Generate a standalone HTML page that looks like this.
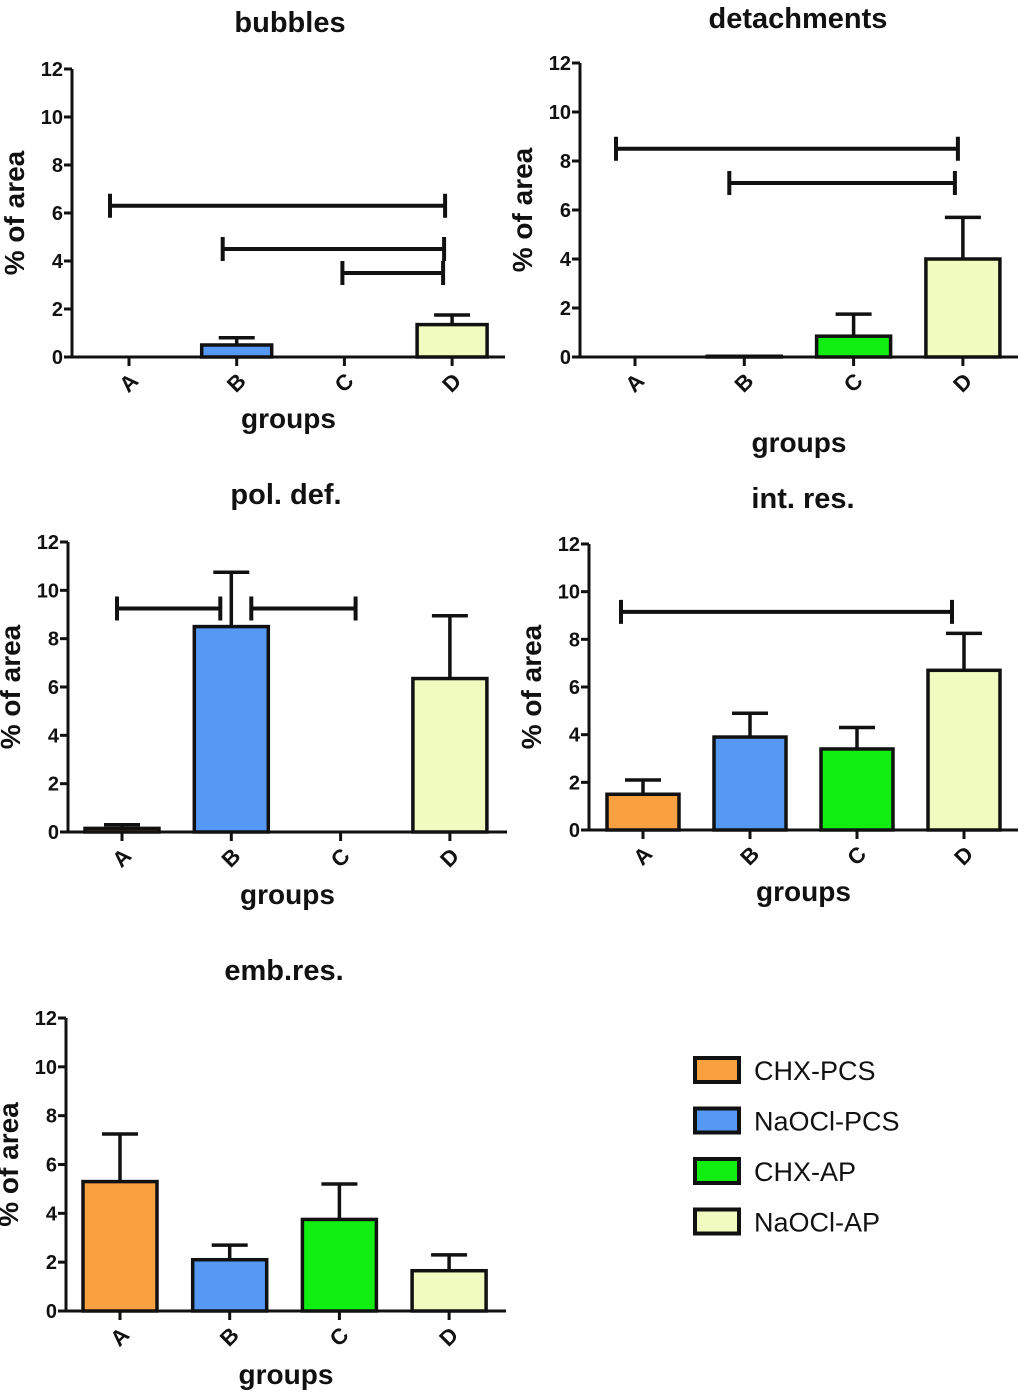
<!DOCTYPE html>
<html><head><meta charset="utf-8"><style>
html,body{margin:0;padding:0;background:#fff;}
svg{display:block;}
text{font-family:"Liberation Sans",Arial,sans-serif;fill:#111;}
</style></head><body>
<svg id="fig" width="1024" height="1393" viewBox="0 0 1024 1393" xmlns="http://www.w3.org/2000/svg"></svg>
<script>
const categories = ["A","B","C","D"];
const colors = ["#f9a040","#5599f4","#11ee11","#f2fbbf"];
const yTicks = [0,2,4,6,8,10,12];
const seriesNames = ["CHX-PCS","NaOCl-PCS","CHX-AP","NaOCl-AP"];
const bubblesVals = [0,0.5,0,1.35];
const bubblesErr = [0,0.8,0,1.75];
const bubblesBrackets = [[0,3,6.3],[1,3,4.5],[2,3,3.5]];
const detachVals = [0,0.03,0.85,4.0];
const detachErr = [0,0.03,1.75,5.7];
const detachBrackets = [[0,3,8.5],[1,3,7.1]];
const polVals = [0.15,8.5,0,6.35];
const polErr = [0.3,10.75,0,8.95];
const polBrackets = [[0,1,9.25],[1,2,9.25]];
const intVals = [1.5,3.9,3.4,6.7];
const intErr = [2.1,4.9,4.3,8.25];
const intBrackets = [[0,3,9.15]];
const embVals = [5.3,2.1,3.75,1.65];
const embErr = [7.25,2.7,5.2,2.3];
const embBrackets = [];

const NS="http://www.w3.org/2000/svg";
const svg=document.getElementById('fig');
function mk(tag,attrs,parent){const e=document.createElementNS(NS,tag);for(const k in attrs)e.setAttribute(k,attrs[k]);(parent||svg).appendChild(e);return e;}

const panels=[
 {key:"bubbles",title:"bubbles",vals:bubblesVals,err:bubblesErr,br:bubblesBrackets,ax:72,axEnd:505,y0:357,y12:69,x0:129,dx:107.7,tx:290,ty:32,gy:428,bw:70,brOff:[[-19,-7],[-14,-8],[-2,-9]]},
 {key:"detachments",title:"detachments",vals:detachVals,err:detachErr,br:detachBrackets,ax:580,axEnd:1018,y0:357,y12:63,x0:635,dx:109.3,tx:798,ty:28,gy:452,bw:74,brOff:[[-19,-5],[-15,-8]]},
 {key:"pol-def",title:"pol. def.",vals:polVals,err:polErr,br:polBrackets,ax:68,axEnd:507,y0:832,y12:542,x0:122,dx:109.3,tx:286,ty:504,gy:904,bw:74,brOff:[[-5,-11],[20,15]]},
 {key:"int-res",title:"int. res.",vals:intVals,err:intErr,br:intBrackets,ax:589,axEnd:1018,y0:830,y12:544,x0:643,dx:107,tx:803,ty:508,gy:901,bw:72,brOff:[[-22,-12]]},
 {key:"emb-res",title:"emb.res.",vals:embVals,err:embErr,br:embBrackets,ax:66,axEnd:506,y0:1311,y12:1018,x0:120,dx:109.7,tx:284,ty:980,gy:1384,bw:74,brOff:[]}
];

panels.forEach(p=>{
 const g=mk('g',{});
 
 
 const ys=v=>p.y0-(p.y0-p.y12)*v/12;
 const xs=i=>p.x0+p.dx*i;
 const t=mk('text',{x:p.tx,y:p.ty,'text-anchor':'middle','font-size':29,'font-weight':'bold'},g);t.textContent=p.title;
 
 
 p.vals.forEach((v,i)=>{
  const x=xs(i);
  if(p.err[i]>v){
   const el=mk('path',{d:`M${x},${ys(v)} V${ys(p.err[i])} M${x-18},${ys(p.err[i])} H${x+18}`,stroke:'#111','stroke-width':3.5,fill:'none'},g);
   
   
  }
  if(v>0){
   const r=mk('rect',{x:x-p.bw/2,y:ys(v),width:p.bw,height:ys(0)-ys(v),fill:colors[i],stroke:'#111','stroke-width':3.5},g);
   
   
  }
 });
 p.br.forEach((b,j)=>{
  const x1=xs(b[0])+p.brOff[j][0], x2=xs(b[1])+p.brOff[j][1], y=ys(b[2]);
  const el=mk('path',{d:`M${x1},${y-12} V${y+12} M${x1},${y} H${x2} M${x2},${y-12} V${y+12}`,stroke:'#111','stroke-width':4,fill:'none'},g);
  
  
 });
 const ya=mk('path',{d:`M${p.ax},${p.y12} V${p.y0}`,stroke:'#111','stroke-width':3,fill:'none'},g);
 
 
 const xa=mk('path',{d:`M${p.ax},${p.y0} H${p.axEnd}`,stroke:'#111','stroke-width':3,fill:'none'},g);
 
 
 yTicks.forEach(v=>{
  mk('path',{d:`M${p.ax-8},${ys(v)} H${p.ax}`,stroke:'#111','stroke-width':3},g);
  const tt=mk('text',{x:p.ax-9,y:ys(v)+7,'text-anchor':'end','font-size':20,'font-weight':'bold'},g);tt.textContent=v;
  
  
 });
 categories.forEach((c,i)=>{
  const x=xs(i);
  mk('path',{d:`M${x},${p.y0} V${p.y0+9}`,stroke:'#111','stroke-width':3},g);
  const tt=mk('text',{x:x,y:p.y0+33,'text-anchor':'middle','font-size':22,'font-weight':'bold',transform:`rotate(-45 ${x} ${p.y0+26})`},g);tt.textContent=c;
  
  
 });
 const yl=mk('text',{x:0,y:0,'text-anchor':'middle','font-size':28,'font-weight':'bold',transform:`translate(${p.ax-48},${(p.y0+p.y12)/2}) rotate(-90)`},g);yl.textContent='% of area';
 
 
 const xl=mk('text',{x:(p.ax+p.axEnd)/2,y:p.gy,'text-anchor':'middle','font-size':28,'font-weight':'bold'},g);xl.textContent='groups';
 
 
});

const lg=mk('g',{});


seriesNames.forEach((n,i)=>{
 const y=1058+i*50.5;
 const r=mk('rect',{x:695,y:y,width:44,height:24,fill:colors[i],stroke:'#111','stroke-width':4},lg);
 
 
 const t=mk('text',{x:754,y:y+22,'font-size':27},lg);t.textContent=n;
 
 
});
</script>
</body></html>
